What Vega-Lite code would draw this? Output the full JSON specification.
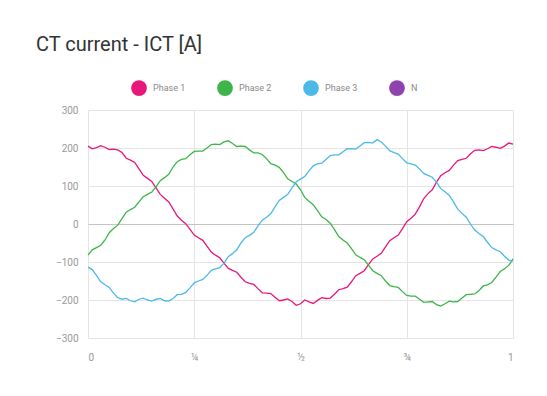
{
  "$schema": "https://vega.github.io/schema/vega-lite/v6.json",
  "width": 425,
  "height": 228,
  "autosize": {"type": "none"},
  "padding": {"left": 88, "top": 110, "right": 34, "bottom": 58},
  "background": "white",
  "title": {
    "text": "CT current - ICT [A]",
    "anchor": "start",
    "frame": "group",
    "dx": -52,
    "offset": 25,
    "fontSize": 20,
    "fontWeight": "normal",
    "font": "Roboto",
    "color": "#333333"
  },
  "config": {
    "view": {"stroke": null},
    "axis": {
      "labelFont": "Roboto",
      "labelColor": "#999999",
      "labelFontSize": 10,
      "labelOverlap": false,
      "domain": false,
      "ticks": false,
      "gridColor": "#e4e4e4",
      "title": null
    }
  },
  "data": {"values": [
    {"t":0.00,"p1":205,"p2":-82,"p3":-113},{"t":0.01,"p1":198,"p2":-68,"p3":-120},
    {"t":0.02,"p1":201,"p2":-62,"p3":-135},{"t":0.03,"p1":206,"p2":-56,"p3":-152},
    {"t":0.04,"p1":202,"p2":-42,"p3":-160},{"t":0.05,"p1":196,"p2":-23,"p3":-167},
    {"t":0.06,"p1":197,"p2":-12,"p3":-182},{"t":0.07,"p1":195,"p2":-3,"p3":-194},
    {"t":0.08,"p1":188,"p2":14,"p3":-198},{"t":0.09,"p1":173,"p2":31,"p3":-196},
    {"t":0.10,"p1":168,"p2":38,"p3":-202},{"t":0.11,"p1":162,"p2":44,"p3":-205},
    {"t":0.12,"p1":145,"p2":58,"p3":-198},{"t":0.13,"p1":128,"p2":72,"p3":-195},
    {"t":0.14,"p1":120,"p2":78,"p3":-200},{"t":0.15,"p1":112,"p2":84,"p3":-203},
    {"t":0.16,"p1":95,"p2":98,"p3":-198},{"t":0.17,"p1":78,"p2":114,"p3":-196},
    {"t":0.18,"p1":68,"p2":122,"p3":-202},{"t":0.19,"p1":58,"p2":131,"p3":-203},
    {"t":0.20,"p1":40,"p2":150,"p3":-196},{"t":0.21,"p1":21,"p2":164,"p3":-186},
    {"t":0.22,"p1":10,"p2":170,"p3":-185},{"t":0.23,"p1":1,"p2":172,"p3":-180},
    {"t":0.24,"p1":-14,"p2":182,"p3":-168},{"t":0.25,"p1":-29,"p2":191,"p3":-155},
    {"t":0.26,"p1":-36,"p2":192,"p3":-150},{"t":0.27,"p1":-43,"p2":192,"p3":-146},
    {"t":0.28,"p1":-58,"p2":200,"p3":-135},{"t":0.29,"p1":-74,"p2":209,"p3":-122},
    {"t":0.30,"p1":-82,"p2":210,"p3":-118},{"t":0.31,"p1":-89,"p2":209,"p3":-115},
    {"t":0.32,"p1":-103,"p2":216,"p3":-103},{"t":0.33,"p1":-117,"p2":219,"p3":-86},
    {"t":0.34,"p1":-122,"p2":212,"p3":-78},{"t":0.35,"p1":-127,"p2":204,"p3":-68},
    {"t":0.36,"p1":-140,"p2":205,"p3":-50},{"t":0.37,"p1":-152,"p2":204,"p3":-36},
    {"t":0.38,"p1":-156,"p2":195,"p3":-30},{"t":0.39,"p1":-159,"p2":187,"p3":-22},
    {"t":0.40,"p1":-170,"p2":187,"p3":-5},{"t":0.41,"p1":-181,"p2":183,"p3":10},
    {"t":0.42,"p1":-182,"p2":172,"p3":18},{"t":0.43,"p1":-183,"p2":159,"p3":27},
    {"t":0.44,"p1":-193,"p2":155,"p3":45},{"t":0.45,"p1":-202,"p2":149,"p3":62},
    {"t":0.46,"p1":-200,"p2":135,"p3":70},{"t":0.47,"p1":-197,"p2":119,"p3":78},
    {"t":0.48,"p1":-204,"p2":112,"p3":95},{"t":0.49,"p1":-214,"p2":105,"p3":111},
    {"t":0.50,"p1":-210,"p2":90,"p3":118},{"t":0.51,"p1":-200,"p2":70,"p3":125},
    {"t":0.52,"p1":-205,"p2":60,"p3":140},{"t":0.53,"p1":-209,"p2":51,"p3":153},
    {"t":0.54,"p1":-201,"p2":35,"p3":158},{"t":0.55,"p1":-194,"p2":19,"p3":160},
    {"t":0.56,"p1":-196,"p2":12,"p3":170},{"t":0.57,"p1":-195,"p2":2,"p3":180},
    {"t":0.58,"p1":-185,"p2":-15,"p3":182},{"t":0.59,"p1":-173,"p2":-33,"p3":182},
    {"t":0.60,"p1":-170,"p2":-42,"p3":190},{"t":0.61,"p1":-166,"p2":-50,"p3":198},
    {"t":0.62,"p1":-152,"p2":-65,"p3":198},{"t":0.63,"p1":-136,"p2":-81,"p3":197},
    {"t":0.64,"p1":-130,"p2":-88,"p3":205},{"t":0.65,"p1":-123,"p2":-94,"p3":214},
    {"t":0.66,"p1":-107,"p2":-108,"p3":215},{"t":0.67,"p1":-92,"p2":-123,"p3":213},
    {"t":0.68,"p1":-85,"p2":-130,"p3":222},{"t":0.69,"p1":-77,"p2":-136,"p3":216},
    {"t":0.70,"p1":-60,"p2":-150,"p3":205},{"t":0.71,"p1":-44,"p2":-162,"p3":193},
    {"t":0.72,"p1":-36,"p2":-165,"p3":188},{"t":0.73,"p1":-29,"p2":-167,"p3":184},
    {"t":0.74,"p1":-12,"p2":-178,"p3":172},{"t":0.75,"p1":6,"p2":-188,"p3":161},
    {"t":0.76,"p1":15,"p2":-190,"p3":158},{"t":0.77,"p1":26,"p2":-190,"p3":155},
    {"t":0.78,"p1":45,"p2":-198,"p3":145},{"t":0.79,"p1":67,"p2":-206,"p3":133},
    {"t":0.80,"p1":80,"p2":-205,"p3":128},{"t":0.81,"p1":90,"p2":-204,"p3":123},
    {"t":0.82,"p1":110,"p2":-212,"p3":110},{"t":0.83,"p1":127,"p2":-216,"p3":93},
    {"t":0.84,"p1":135,"p2":-210,"p3":85},{"t":0.85,"p1":141,"p2":-203,"p3":75},
    {"t":0.86,"p1":155,"p2":-205,"p3":58},{"t":0.87,"p1":167,"p2":-204,"p3":39},
    {"t":0.88,"p1":170,"p2":-195,"p3":28},{"t":0.89,"p1":173,"p2":-186,"p3":18},
    {"t":0.90,"p1":185,"p2":-185,"p3":0},{"t":0.91,"p1":194,"p2":-184,"p3":-16},
    {"t":0.92,"p1":195,"p2":-175,"p3":-25},{"t":0.93,"p1":193,"p2":-163,"p3":-33},
    {"t":0.94,"p1":198,"p2":-160,"p3":-48},{"t":0.95,"p1":204,"p2":-154,"p3":-62},
    {"t":0.96,"p1":202,"p2":-140,"p3":-68},{"t":0.97,"p1":199,"p2":-125,"p3":-73},
    {"t":0.98,"p1":205,"p2":-118,"p3":-85},{"t":0.99,"p1":213,"p2":-109,"p3":-95},
    {"t":1.00,"p1":210,"p2":-92,"p3":-98}
  ]},
  "transform": [
    {"fold": ["p1", "p2", "p3"], "as": ["key", "I"]},
    {"lookup": "key", "from": {"data": {"values": [{"key":"p1","phase":"Phase 1"},{"key":"p2","phase":"Phase 2"},{"key":"p3","phase":"Phase 3"}]}, "key": "key", "fields": ["phase"]}}
  ],
  "mark": {"type": "line", "strokeWidth": 1.3, "interpolate": "linear"},
  "encoding": {
    "x": {
      "field": "t", "type": "quantitative",
      "scale": {"domain": [0, 1], "nice": false},
      "axis": {"values": [0, 0.25, 0.5, 0.75, 1], "labelPadding": 14, "labelExpr": "datum.value == 0.25 ? '¼' : datum.value == 0.5 ? '½' : datum.value == 0.75 ? '¾' : datum.value == 0 ? '0' : '1'", "grid": true}
    },
    "y": {
      "field": "I", "type": "quantitative",
      "scale": {"domain": [-300, 300], "nice": false},
      "axis": {
        "values": [-300, -200, -100, 0, 100, 200, 300],
        "labelPadding": 10,
        "labelOverlap": false,
        "grid": true,
        "gridColor": {"condition": {"test": "datum.value === 0", "value": "#c4c4c4"}, "value": "#e4e4e4"}
      }
    },
    "color": {
      "field": "phase", "type": "nominal",
      "scale": {"domain": ["Phase 1", "Phase 2", "Phase 3", "N"], "range": ["#e8177c", "#3db54a", "#4cb9e9", "#8e44ad"]},
      "legend": {
        "title": null,
        "orient": "none",
        "legendX": 43,
        "legendY": -30,
        "direction": "horizontal",
        "columns": 4,
        "symbolType": "circle",
        "symbolSize": 250,
        "symbolStrokeWidth": 0,
        "labelFont": "Roboto",
        "labelFontSize": 9,
        "labelColor": "#888888",
        "labelOffset": 6,
        "columnPadding": 31,
        "encode": {
          "symbols": {"update": {"fill": {"scale": "color", "field": "value"}, "fillOpacity": {"value": 1}, "strokeWidth": {"value": 0}}}
        }
      }
    }
  }
}
